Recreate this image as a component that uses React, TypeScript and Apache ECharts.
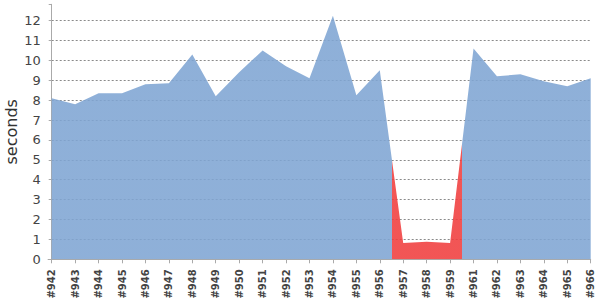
import React, { useEffect, useRef } from "react";
import * as echarts from "echarts";

const builds = [
  "#942", "#943", "#944", "#945", "#946", "#947", "#948", "#949", "#950", "#951",
  "#952", "#953", "#954", "#955", "#956", "#957", "#958", "#959", "#961", "#962",
  "#963", "#964", "#965", "#966",
];
const durations = [
  8.1, 7.8, 8.35, 8.35, 8.8, 8.85, 10.3, 8.2, 9.4, 10.5,
  9.7, 9.1, 12.25, 8.25, 9.5, 0.82, 0.88, 0.82, 10.6, 9.2,
  9.3, 8.95, 8.7, 9.1,
];
// build result per category: "ok" or "fail"
const results = [
  "ok", "ok", "ok", "ok", "ok", "ok", "ok", "ok", "ok", "ok",
  "ok", "ok", "ok", "ok", "ok", "fail", "fail", "fail", "ok", "ok",
  "ok", "ok", "ok", "ok",
];
const yTicks = [0, 1, 2, 3, 4, 5, 6, 7, 8, 9, 10, 11, 12];
const yMax = 12.82;

const BLUE = "#7fa5d3";
const RED = "#f03e3e";

export default function App() {
  const ref = useRef<HTMLDivElement>(null);
  useEffect(() => {
    if (!ref.current) return;
    const chart = echarts.init(ref.current, null, { renderer: "svg" });

    // pieces: colour changes halfway between builds of different result
    const pieces: any[] = [];
    let start = 0;
    for (let i = 1; i <= results.length; i++) {
      if (i === results.length || results[i] !== results[start]) {
        const p: any = { color: results[start] === "fail" ? RED : BLUE };
        if (start > 0) p.gte = start - 0.5;
        if (i < results.length) p.lt = i - 0.5;
        pieces.push(p);
        start = i;
      }
    }

    const gridColors = yTicks.map(() => "#8a8a8a");
    gridColors.push("rgba(0,0,0,0)");

    chart.setOption({
      animation: false,
      grid: {
        left: 51.7,
        right: 9.3,
        top: 4.3,
        bottom: 40.7,
        containLabel: false,
        outerBoundsMode: "none",
      },
      visualMap: {
        show: false,
        type: "piecewise",
        dimension: 0,
        seriesIndex: 0,
        pieces,
      },
      xAxis: {
        type: "value",
        min: 0,
        max: builds.length - 1,
        interval: 1,
        axisLine: { show: true, lineStyle: { color: "#aaaaaa", width: 1 } },
        axisTick: { show: true, length: 4, lineStyle: { color: "#aaaaaa" } },
        axisLabel: {
          rotate: 90,
          margin: 10,
          fontFamily: "DejaVu Sans",
          fontSize: 10,
          fontWeight: "bold",
          color: "#444444",
          showMinLabel: true,
          showMaxLabel: true,
          formatter: (v: number) => builds[Math.round(v)] ?? "",
        },
        splitLine: { show: false },
      },
      yAxis: {
        type: "value",
        min: 0,
        max: yMax,
        interval: 1,
        offset: 4,
        name: "seconds",
        nameLocation: "middle",
        nameGap: 28,
        nameMoveOverlap: false,
        nameTextStyle: { fontFamily: "DejaVu Sans", fontSize: 16, color: "#333333" },
        axisLine: { show: true, lineStyle: { color: "#aaaaaa", width: 1 } },
        axisTick: { show: true, length: 3, lineStyle: { color: "#aaaaaa" } },
        axisLabel: {
          margin: 7,
          fontFamily: "DejaVu Sans",
          fontSize: 13,
          color: "#444444",
          formatter: (v: number) => (Number.isInteger(v) ? String(v) : ""),
        },
        splitLine: {
          show: true,
          lineStyle: { color: gridColors, type: [2, 2], width: 1 },
        },
      },
      graphic: [
        {
          type: "line",
          shape: { x1: 47.7, y1: 259.5, x2: 52, y2: 259.5 },
          style: { stroke: "#aaaaaa", lineWidth: 1 },
          silent: true,
        },
      ],
      series: [
        {
          type: "line",
          data: durations.map((v, i) => [i, v]),
          symbol: "none",
          lineStyle: { width: 0 },
          areaStyle: { opacity: 0.88 },
        },
      ],
    });
    return () => chart.dispose();
  }, []);
  return (
    <div
      ref={ref}
      style={{ position: "absolute", left: 0, top: 0, width: 600, height: 300 }}
    />
  );
}
